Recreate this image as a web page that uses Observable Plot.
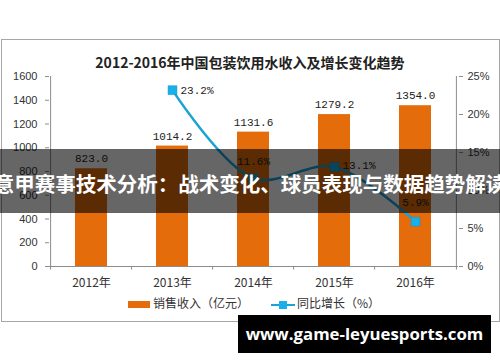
<!DOCTYPE html>
<html><head><meta charset="utf-8">
<script src="https://cdn.jsdelivr.net/npm/d3@7"></script>
<script src="https://cdn.jsdelivr.net/npm/@observablehq/plot@0.6"></script>
<style>
html,body{margin:0;padding:0;background:#fff;}
#wrap{position:relative;width:500px;height:362px;overflow:hidden;font-family:"Liberation Sans",Arial,sans-serif;}
#frame{position:absolute;left:1px;top:39px;width:497px;height:281px;border:1px solid #a6a6a6;}
#title{position:absolute;left:0;width:500px;top:52px;text-align:center;font:bold 14px "Noto Sans CJK SC",serif;color:#222;}
#chart{position:absolute;left:0;top:0;}
#legend{position:absolute;top:294px;left:128px;font:12px "Noto Sans CJK SC",sans-serif;color:#333;white-space:nowrap;}
#banner{position:absolute;left:0;top:149px;width:500px;height:64px;background:rgba(0,0,0,0.6);}
#bannerText{position:absolute;left:-20px;width:540px;top:168px;text-align:center;color:#fff;font:bold 20.5px "Noto Sans CJK SC",sans-serif;line-height:30px;white-space:nowrap;}
#url{position:absolute;left:238px;top:315px;width:253px;height:38px;background:#000;color:#fff;font:bold 16.8px "Open Sans",sans-serif;line-height:38px;text-align:center;white-space:nowrap;}
</style></head>
<body><div id="wrap">
<div id="frame"></div>
<div id="chart"></div>
<div id="title">2012-2016年中国包装饮用水收入及增长变化趋势</div>
<div id="legend"></div>
<div id="banner"></div>
<div id="bannerText">意甲赛事技术分析：战术变化、球员表现与数据趋势解读</div>
<div id="url">www.game-leyuesports.com</div>
</div>
<script>
const years = ["2012年","2013年","2014年","2015年","2016年"];
const revenue = [823.0, 1014.2, 1131.6, 1279.2, 1354.0];
const growthYears = ["2013年","2014年","2015年","2016年"];
const growth = [23.2, 11.6, 13.1, 5.9];
const leftTicks = [0,200,400,600,800,1000,1200,1400,1600];
const rightTicks = [0,5,10,15,20,25];
const seriesNames = ["销售收入（亿元）","同比增长（%）"];

const k = 1600/25;
const bars = years.map((y,i)=>({year:y, value:revenue[i]}));
const line = growthYears.map((y,i)=>({year:y, g:growth[i], v:growth[i]*k}));
const orange = "#e46c0a", blue = "#1aa3d6", axisC = "#8c8c8c";
const labelFont = "Liberation Mono, DejaVu Sans Mono, monospace";
// per-label placement of growth labels: [dx, dy, anchor]
const gPos = [[8, 0, "start"], [0, -17, "middle"], [8, -1, "start"], [0, -19, "middle"]];
const gMarks = line.map((d, i) => Plot.text([d], {x: "year", y: "v", text: d => d.g.toFixed(1) + "%",
  dx: gPos[i][0], dy: gPos[i][1], textAnchor: gPos[i][2], fontFamily: labelFont, fontSize: 11, fill: "#222"}));

const chart = Plot.plot({
  width: 500, height: 362,
  marginLeft: 49, marginRight: 42, marginTop: 76, marginBottom: 96,
  style: {background: "transparent", fontFamily: "Liberation Sans, Arial, sans-serif", fontSize: "11px", color: "#333"},
  x: {domain: years, padding: 0.6, paddingOuter: 0.3, align: 0.5},
  y: {domain: [0, 1600]},
  marks: [
    Plot.barY(bars, {x: "year", y: "value", fill: orange}),
    Plot.text(bars, {x: "year", y: "value", text: d => d.value.toFixed(1), dy: -10, fontFamily: labelFont, fontSize: 11, fill: "#222"}),
    Plot.axisY({ticks: leftTicks, tickFormat: d => String(d), tickSize: 4, tickPadding: 8, stroke: axisC, label: null, fontSize: 11}),
    Plot.axisY({anchor: "right", ticks: rightTicks.map(t => t*k), tickFormat: d => Math.round(d/k) + "%", tickSize: 4, tickPadding: 5, stroke: axisC, label: null, fontSize: 11}),
    Plot.ruleX([0], {x: () => years[0], y1: 0, y2: 1600, dx: -40.9, stroke: axisC}),
    Plot.ruleX([0], {x: () => years[4], y1: 0, y2: 1600, dx: 40.9, stroke: axisC}),
    Plot.ruleY([0], {stroke: axisC}),
    Plot.ruleX(years, {x: d => d, y1: 0, y2: -30, dx: -40.9, stroke: axisC}),
    Plot.ruleX([years[4]], {x: d => d, y1: 0, y2: -30, dx: 40.9, stroke: axisC}),
    Plot.axisX({tickSize: 0, tickPadding: 12, label: null, fontSize: 12, fontFamily: "Noto Sans CJK SC, sans-serif"}),
    Plot.line(line, {x: "year", y: "v", stroke: blue, strokeWidth: 2.5, curve: "catmull-rom"}),
    Plot.dot(line, {x: "year", y: "v", symbol: "square", r: 5, fill: "#18b0ea", stroke: "#1590c0", strokeWidth: 0.5}),
    ...gMarks
  ]
});
document.getElementById("chart").appendChild(chart);

// legend
const lg = document.getElementById("legend");
lg.innerHTML = `<span style="display:inline-block;width:22px;height:7px;background:${orange};vertical-align:middle;margin-right:3px"></span>${seriesNames[0]}` +
  `<span style="display:inline-block;position:relative;width:24px;height:8px;vertical-align:middle;margin:0 2px 0 22px"><span style="position:absolute;left:0;top:3px;width:24px;height:2.5px;background:${blue}"></span><span style="position:absolute;left:8px;top:0;width:8px;height:8px;background:#18b0ea"></span></span>${seriesNames[1]}`;
</script>
</body></html>
